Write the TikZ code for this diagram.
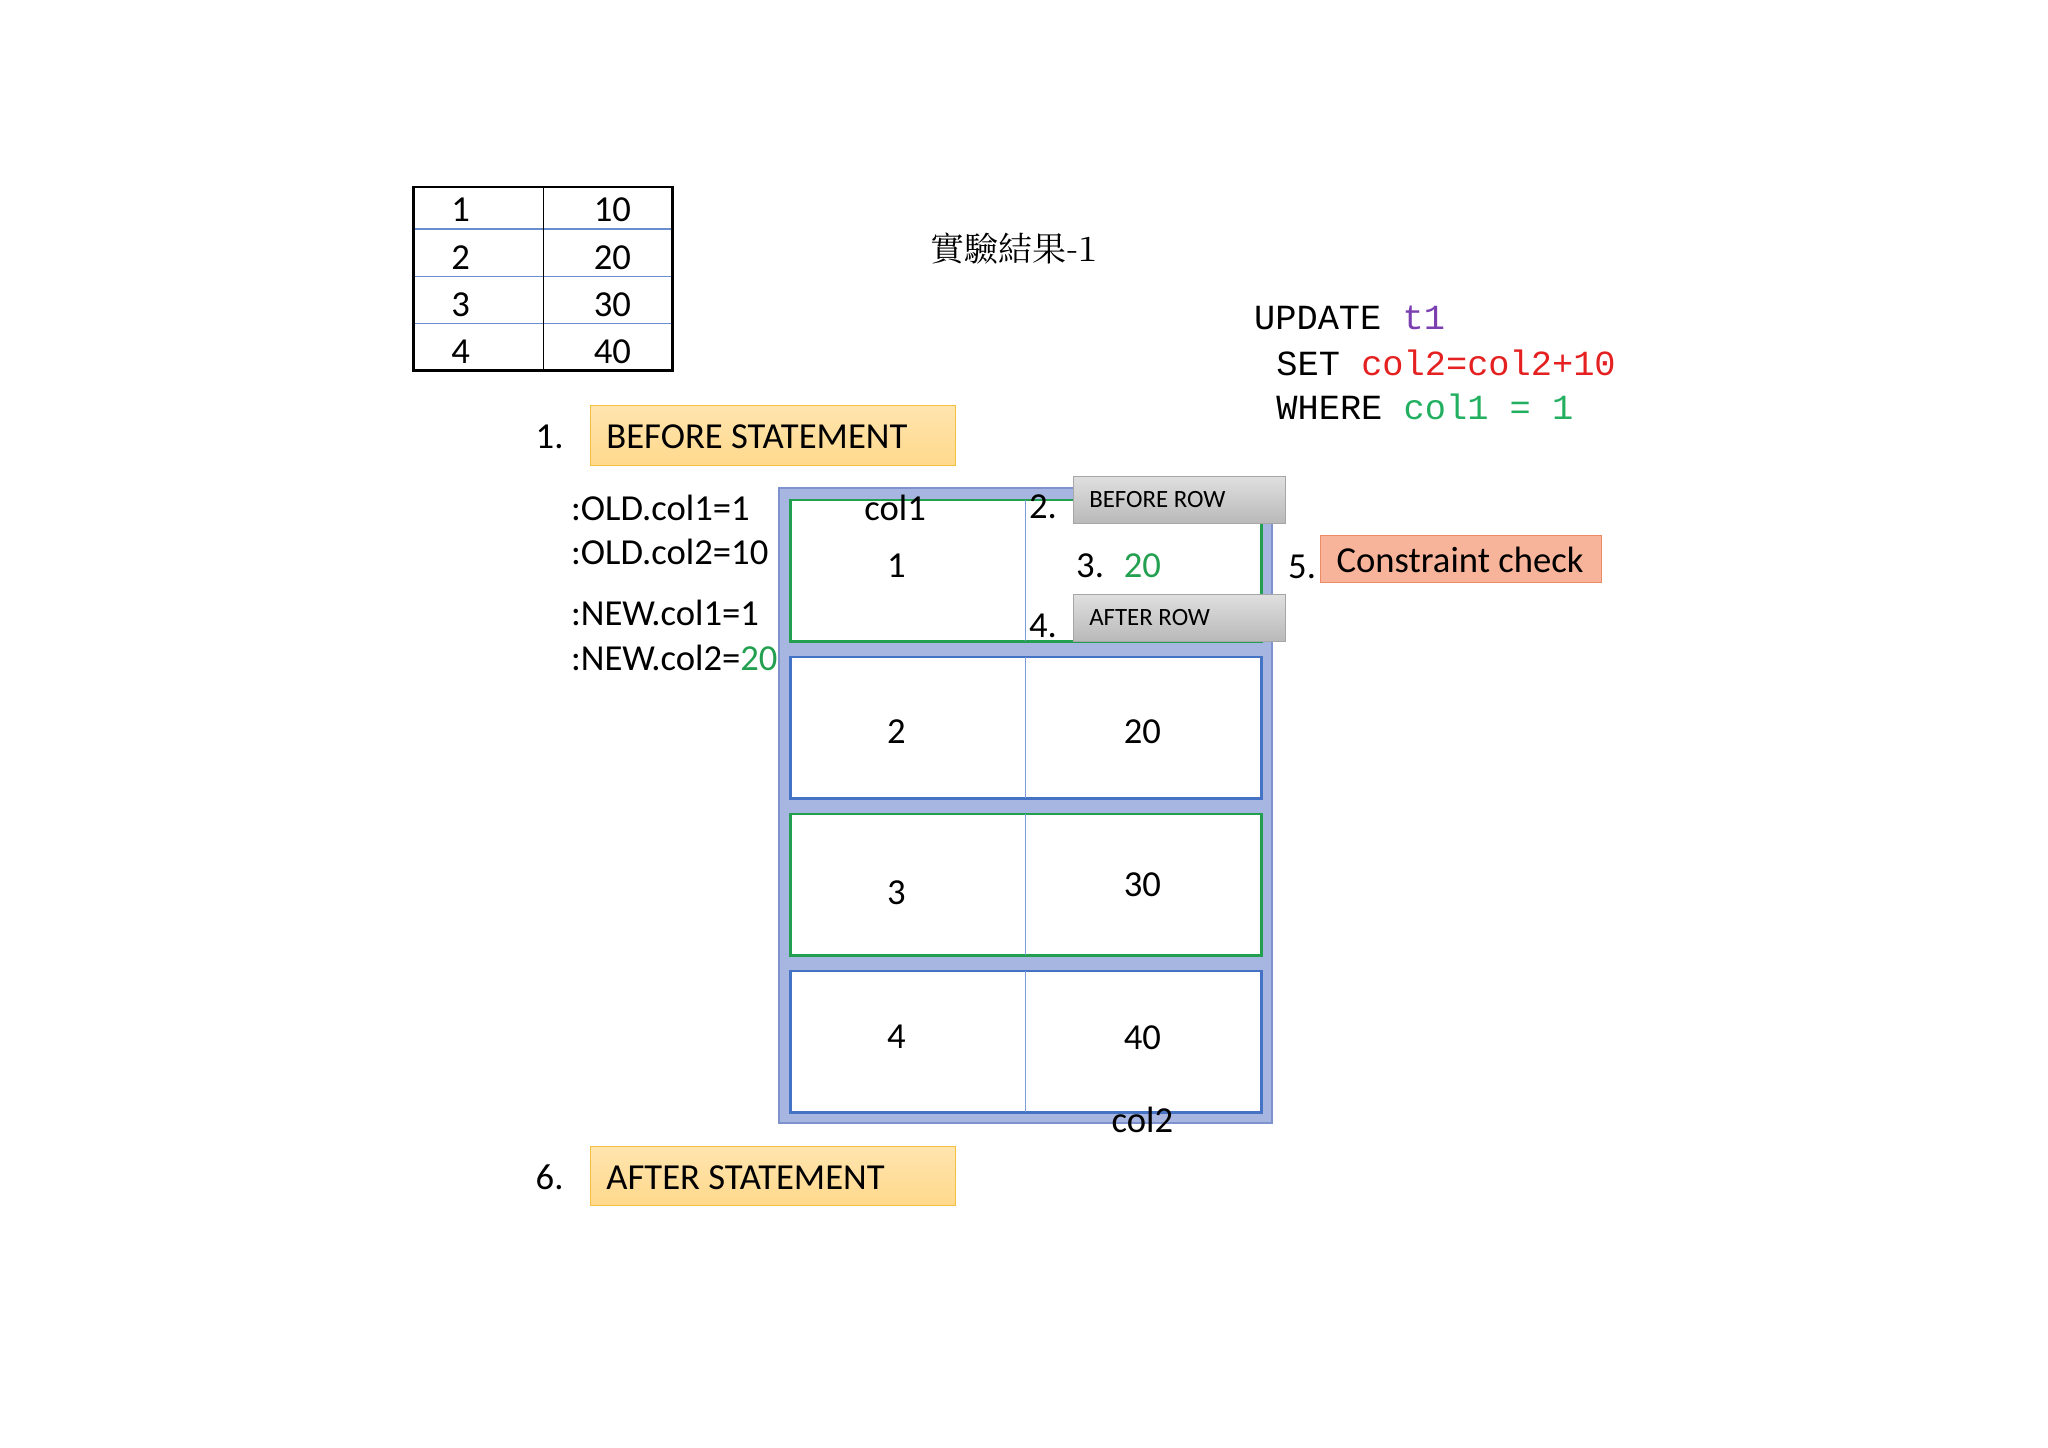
\documentclass[tikz,border=0pt]{standalone}
\usetikzlibrary{fit}
\usepackage{fontspec}
\setmainfont{Carlito}
\setmonofont{Liberation Mono}
\newfontfamily\cjk{Noto Serif CJK TC}
\definecolor{frameblue}{HTML}{A7B6E0}
\definecolor{frameedge}{HTML}{7E92CE}
\definecolor{cellblue}{HTML}{4472C4}
\definecolor{cellgreen}{HTML}{22A050}
\definecolor{orfill}{HTML}{FFD98C}
\definecolor{oredge}{HTML}{F5C040}
\definecolor{cfill}{HTML}{F7B49A}
\definecolor{cedge}{HTML}{EE8A66}
\definecolor{sqlred}{HTML}{E52020}
\definecolor{sqlgreen}{HTML}{22B060}
\definecolor{sqlpurple}{HTML}{7B3FB0}
\begin{document}
\begin{tikzpicture}[x=0.5pt,y=-0.5pt,
  txt/.style={inner sep=0pt,font=\fontsize{14}{16}\selectfont},
  lbl/.style={inner sep=0pt,font=\fontsize{14}{16}\selectfont,anchor=west},
  stmt/.style={draw=oredge,top color=orfill!70,bottom color=orfill,inner sep=0pt},
  rowbox/.style={draw=gray!70,top color=gray!25,bottom color=gray!55,inner sep=0pt},
  sql/.style={inner sep=0pt,anchor=west,font=\ttfamily\fontsize{13.5}{15}\selectfont}]
\useasboundingbox (0,0) rectangle (1565,1106);
% small table
\draw[cellblue!80,thin] (316,175) -- (514,175) (316,211) -- (514,211) (316,247) -- (514,247);
\draw[black,thin] (415,143) -- (415,283);
\draw[black,line width=1pt] (316,143) rectangle (514,283);
\foreach \y/\a/\b in {160/1/10,197/2/20,233/3/30,269/4/40}{
  \node[txt] at (352,\y) {\a};
  \node[txt] at (468,\y) {\b};}
\node[inner sep=0pt,font=\cjk\fontsize{13}{15}\selectfont] (title) at (775,190) {實驗結果-1};
% SQL
\node[sql] (s1) at (958,243) {UPDATE \textcolor{sqlpurple}{t1}};
\node[sql] (s2) at (975,277) {SET \textcolor{sqlred}{col2=col2+10}};
\node[sql] (s3) at (975,311) {WHERE \textcolor{sqlgreen}{col1 = 1}};
% before statement
\coordinate (bsa) at (451,310); \coordinate (bsb) at (730,356);
\node[stmt,fit=(bsa)(bsb)] (bs) {};
\node[lbl] at (463,334) {BEFORE STATEMENT};
\node[txt] (n1) at (420,334) {1.};
\coordinate (asa) at (451,876); \coordinate (asb) at (730,921);
\node[stmt,fit=(asa)(asb)] (as) {};
\node[lbl] at (463,900) {AFTER STATEMENT};
\node[txt] (n6) at (420,900) {6.};
% big frame
\draw[frameedge,fill=frameblue,line width=0.8pt] (595,373) rectangle (972,858);
\foreach \t/\c in {382/cellgreen,502/cellblue,622/cellgreen,742/cellblue}{
  \draw[\c,fill=white,line width=1pt] (604,\t) rectangle (964,\t+108);
  \draw[cellblue!70,thin] (784,\t) -- (784,\t+108);}
\node[txt] (c1) at (684,388) {col1};
\node[txt] (c2) at (873,856) {col2};
\node[txt] at (685,432) {1};
\node[txt] at (685,559) {2};
\node[txt] at (873,559) {20};
\node[txt] at (685,682) {3};
\node[txt] at (873,676) {30};
\node[txt] at (685,792) {4};
\node[txt] at (873,793) {40};
% rows
\node[txt] (n2) at (797,387) {2.};
\coordinate (bra) at (820,364); \coordinate (brb) at (982,400);
\node[rowbox,fit=(bra)(brb)] (br) {};
\node[inner sep=0pt,anchor=west,font=\fontsize{9.5}{11}\selectfont] at (832,382) {BEFORE ROW};
\node[txt] (n3) at (833,432) {3.};
\node[txt,text=cellgreen] (v3) at (873,432) {20};
\node[txt] (n4) at (797,478) {4.};
\coordinate (ara) at (820,454); \coordinate (arb) at (982,490);
\node[rowbox,fit=(ara)(arb)] (ar) {};
\node[inner sep=0pt,anchor=west,font=\fontsize{9.5}{11}\selectfont] at (832,472) {AFTER ROW};
% constraint
\node[txt] (n5) at (995,433) {5.};
\coordinate (cca) at (1009,409); \coordinate (ccb) at (1224,445);
\node[draw=cedge,fill=cfill,inner sep=0pt,fit=(cca)(ccb)] (cc) {};
\node[lbl] at (1021,428) {Constraint check};
% old/new
\node[lbl] at (436,388) {:OLD.col1=1};
\node[lbl] at (436,422) {:OLD.col2=10};
\node[lbl] at (436,468) {:NEW.col1=1};
\node[lbl] at (436,503) {:NEW.col2=\textcolor{cellgreen}{20}};
\end{tikzpicture}
\end{document}
